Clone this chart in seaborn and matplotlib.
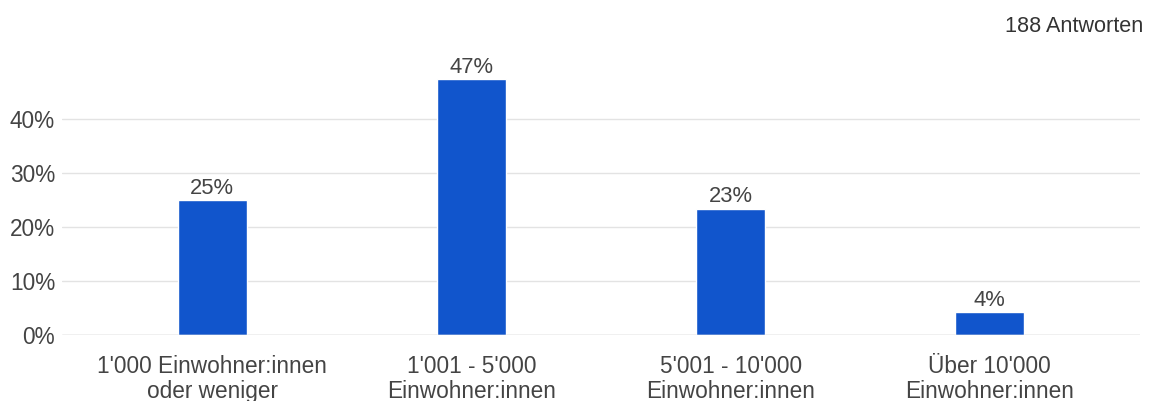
import pandas as pd
import matplotlib.pyplot as plt
import seaborn as sns

categories = [
    "1'000 Einwohner:innen\noder weniger",
    "1'001 - 5'000\nEinwohner:innen",
    "5'001 - 10'000\nEinwohner:innen",
    "Über 10'000\nEinwohner:innen",
]
counts = [47, 89, 44, 8]
total = 188
yticks = [0, 0.1, 0.2, 0.3, 0.4]

df = pd.DataFrame({"cat": categories, "share": [c / total for c in counts]})

sns.set_style("white")
plt.rcParams["font.family"] = ["Liberation Sans", "DejaVu Sans"]

fig = plt.figure(figsize=(11.53, 4.01), dpi=100)
ax = fig.add_axes([0.0538, 0.1646, 0.935, 0.673])

sns.barplot(data=df, x="cat", y="share", color="#1155cc", saturation=1,
            width=0.265, ax=ax, zorder=3)

ax.bar_label(ax.containers[0], labels=[f"{v:.0%}" for v in df["share"]],
             padding=1, fontsize=15.8, color="#444444")

ax.set_xlim(-0.58, 3.58)
ax.set_ylim(0, 0.5)
ax.set_yticks(yticks)
ax.set_yticklabels([f"{t:.0%}" for t in yticks])
ax.grid(axis="y", color="#e3e3e3", linewidth=1, zorder=0)
ax.set_xlabel("")
ax.set_ylabel("")
for s in ax.spines.values():
    s.set_visible(False)
ax.axhline(0, color="#cccccc", linewidth=1, zorder=4)
ax.tick_params(axis="both", length=0, labelsize=16.3, colors="#444444")
ax.tick_params(axis="x", pad=14.5)
ax.tick_params(axis="y", pad=5)
for lbl in ax.get_xticklabels():
    lbl.set_linespacing(1.13)

fig.text(0.9915, 0.935, f"{total} Antworten", ha="right", va="center",
         fontsize=15.6, color="#333333")

fig.savefig("out.png", dpi=100)
